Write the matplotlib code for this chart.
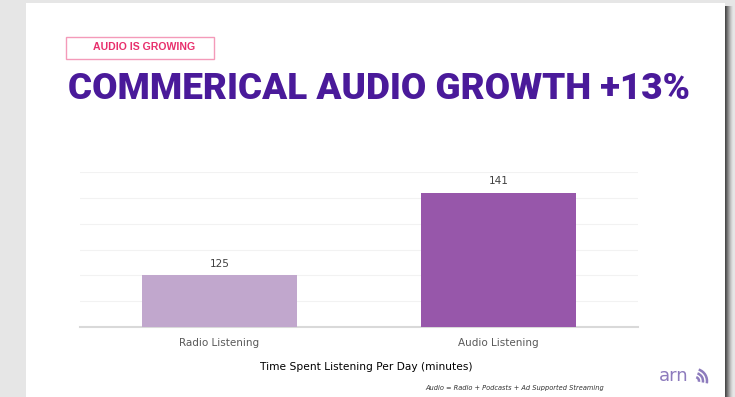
import matplotlib
matplotlib.use("Agg")
import matplotlib.pyplot as plt
from matplotlib.patches import Rectangle, Arc

categories = ["Radio Listening", "Audio Listening"]
minutes = [125, 141]
bar_colors = ["#C1A7CD", "#9757AA"]
y_ticks = [115, 120, 125, 130, 135, 140, 145]

title = "COMMERICAL AUDIO GROWTH +13%"
tag = "AUDIO IS GROWING"
x_label = "Time Spent Listening Per Day (minutes)"
footnote = "Audio = Radio + Podcasts + Ad Supported Streaming"

W, H = 735, 397
fig = plt.figure(figsize=(W / 100, H / 100), dpi=100)
fig.patch.set_facecolor("#E6E6E6")


def fx(px):
    return px / W


def fy(py):
    return 1 - py / H


# slide card with a soft shadow on the right
shadow = ["#4A4A4A", "#5E5E5E", "#767676", "#8E8E8E", "#A6A6A6", "#BDBDBD", "#D0D0D0", "#DEDEDE"]
for i, c in enumerate(shadow):
    fig.patches.append(Rectangle((fx(725 + i), 0), fx(1.05), fy(6), transform=fig.transFigure,
                                 facecolor=c, edgecolor="none", zorder=0))
fig.patches.append(Rectangle((fx(26), 0), fx(699), fy(3), transform=fig.transFigure,
                             facecolor="white", edgecolor="none", zorder=1))

# tag box
fig.patches.append(Rectangle((fx(66), fy(59)), fx(148), 22 / H, transform=fig.transFigure,
                             facecolor="white", edgecolor="#F49AB9", linewidth=1.0, zorder=2))
fig.text(fx(144), fy(47.5), tag, color="#E8306D", fontsize=7.6, fontweight="bold",
         family="Liberation Sans", ha="center", va="center", zorder=3)

fig.text(fx(68), fy(89), title, color="#4A1A9A", fontsize=26.6, fontweight="black",
         family="Roboto", ha="left", va="center", zorder=3)

ax = fig.add_axes([fx(80), fy(327), fx(638 - 80), (327 - 172) / H])
ax.set_facecolor("none")
ax.set_zorder(3)

x = list(range(len(categories)))
bars = ax.bar(x, minutes, width=0.555, color=bar_colors, zorder=3)
for b, v in zip(bars, minutes):
    ax.text(b.get_x() + b.get_width() / 2, v + 1.2, str(v), ha="center", va="bottom",
            fontsize=7.5, color="#404040")

ax.set_xlim(-0.5, 1.5)
ax.set_ylim(y_ticks[0], y_ticks[-1])
ax.set_yticks(y_ticks)
ax.yaxis.grid(True, color="#F2F2F2", linewidth=0.8, zorder=0)
ax.tick_params(axis="y", left=False, labelleft=False)
ax.tick_params(axis="x", length=0, pad=8, labelsize=7.5, labelcolor="#595959")
ax.set_xticks(x)
ax.set_xticklabels(categories)
for side in ["left", "right", "top"]:
    ax.spines[side].set_visible(False)
ax.spines["bottom"].set_color("#D9D9D9")
ax.spines["bottom"].set_linewidth(1.5)

fig.text(fx(366), fy(367), x_label, ha="center", va="center", fontsize=7.7, color="black")
fig.text(fx(515), fy(388), footnote, ha="center", va="center", fontsize=4.8,
         style="italic", color="#333333")

# arn logo
fig.text(fx(659), fy(376), "arn", ha="left", va="center", fontsize=13, color="#8D7BBD",
         family="DejaVu Sans", zorder=3)
for r in [4, 8, 12]:
    fig.patches.append(Arc((fx(695), fy(381)), 2 * r / W, 2 * r / H, theta1=-20, theta2=80,
                           transform=fig.transFigure, color="#8D7BBD", linewidth=1.8, zorder=3))

fig.savefig("out.png", dpi=100, facecolor=fig.get_facecolor())
